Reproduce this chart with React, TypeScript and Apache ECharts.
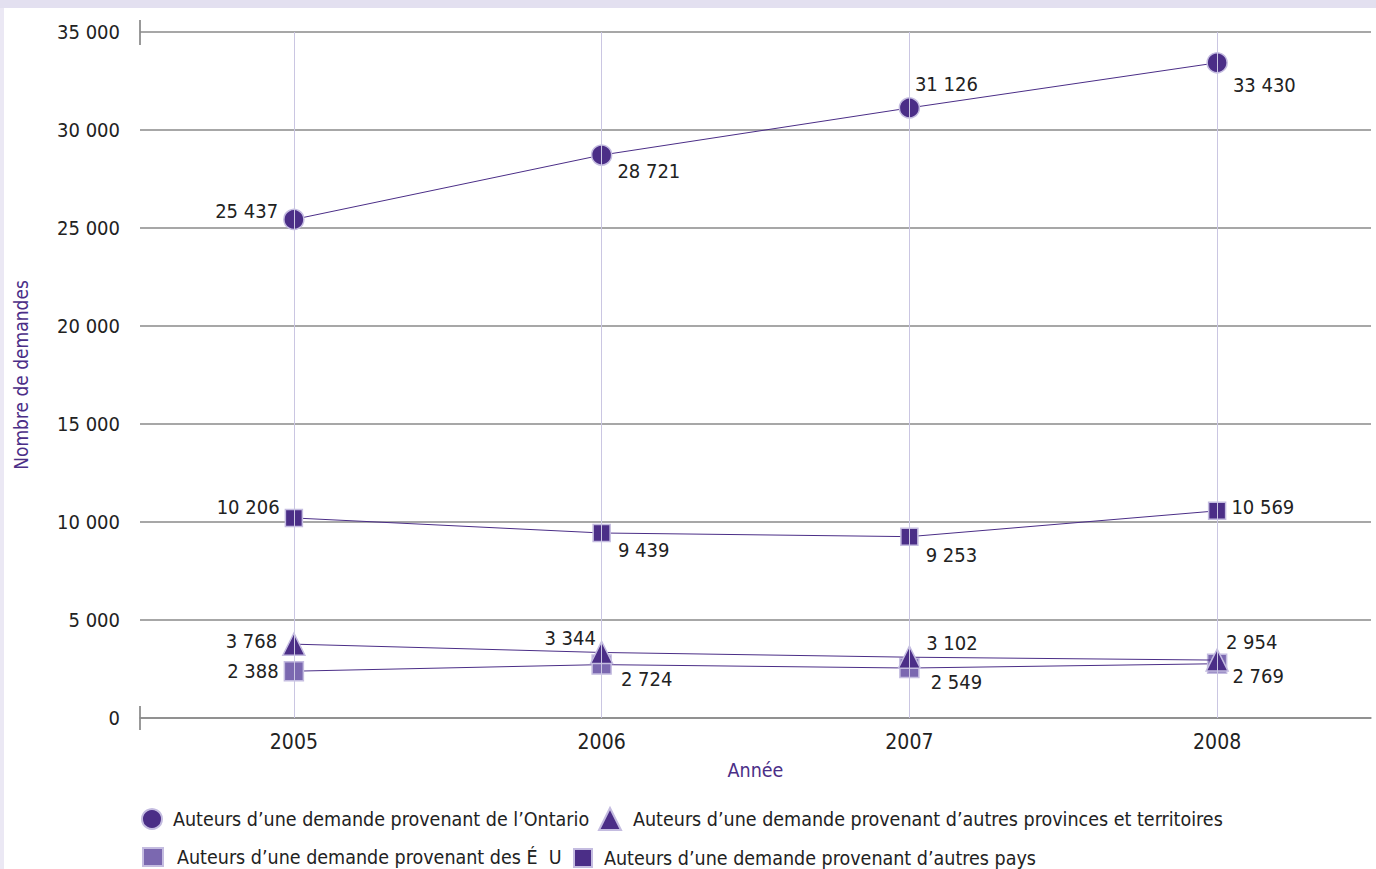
import React, { useEffect, useRef } from "react";
import * as echarts from "echarts";

const years = ["2005", "2006", "2007", "2008"];
const ontario = [25437, 28721, 31126, 33430];
const provinces = [3768, 3344, 3102, 2954];
const etatsUnis = [2388, 2724, 2549, 2769];
const autresPays = [10206, 9439, 9253, 10569];
const yTicks = [0, 5000, 10000, 15000, 20000, 25000, 30000, 35000];

const names = [
  "Auteurs d\u2019une demande provenant de l\u2019Ontario",
  "Auteurs d\u2019une demande provenant d\u2019autres provinces et territoires",
  "Auteurs d\u2019une demande provenant des \u00C9  U",
  "Auteurs d\u2019une demande provenant d\u2019autres pays",
];

// label placement per point: [position, dx, dy]
const ontarioLabels: [string, number, number][] = [
  ["left", 0, -8], ["right", 0, 16], ["top", 37, 2], ["right", 0, 22],
];
const provincesLabels: [string, number, number][] = [
  ["left", 0, -3], ["left", 11, -14], ["right", 0, -14], ["right", -8, -18],
];
const usLabels: [string, number, number][] = [
  ["left", 0, 0], ["right", 4, 14], ["right", 6, 14], ["right", 0, 12],
];
const paysLabels: [string, number, number][] = [
  ["left", 0, -11], ["right", 2, 17], ["right", 2, 18], ["right", 0, -4],
];

const FONT = "'Liberation Sans Narrow', 'Arial Narrow', 'DejaVu Sans Condensed', sans-serif";
const DARK = "#4b2e87";
const LIGHT = "#7b68b0";
const fmt = (v: number) => String(v).replace(/\B(?=(\d{3})+(?!\d))/g, " ");

function buildData(values: number[], labels: [string, number, number][]) {
  return values.map((v, i) => ({
    value: v,
    label: { position: labels[i][0], offset: [labels[i][1], labels[i][2]] },
  }));
}

export default function App() {
  const ref = useRef<HTMLDivElement>(null);
  useEffect(() => {
    document.body.style.margin = "0";
    const chart = echarts.init(ref.current!, undefined, { renderer: "svg" });
    const labelStyle = {
      show: true,
      fontFamily: FONT,
      fontSize: 20,
      color: "#222",
      distance: 5,
      formatter: (p: any) => fmt(p.value),
    };
    const mk = (name: string, vals: number[], labs: any, symbol: string, size: number, color: string, z: number) => ({
      name,
      type: "line",
      z,
      data: buildData(vals, labs),
      symbol,
      symbolSize: size,
      showAllSymbol: true,
      lineStyle: { color: DARK, width: 1 },
      itemStyle: { color, borderColor: "#c4bce0", borderWidth: 1.5 },
      label: labelStyle,
    });
    const legendText = { fontFamily: FONT, fontSize: 19.5, color: "#222" };
    const leg = (name: string, icon: string, left: number, top: number, w: number, h: number, pad: number) => ({
      data: [{ name, icon }],
      left,
      top,
      itemWidth: w,
      itemHeight: h,
      padding: 0,
      selectedMode: false,
      textStyle: { ...legendText, padding: [0, 0, 0, pad] },
    });
    chart.setOption({
      animation: false,
      backgroundColor: "#fff",
      textStyle: { fontFamily: FONT },
      grid: { left: 140, right: 5, top: 32, bottom: 151, containLabel: false, outerBoundsMode: "none" },
      legend: [
        leg(names[0], "circle", 141, 808, 20, 20, 6),
        leg(names[1], "triangle", 598, 807, 22, 22, 7),
        leg(names[2], "rect", 142, 847, 20, 18, 9),
        leg(names[3], "rect", 573, 848, 18, 18, 7),
      ],
      xAxis: {
        type: "category",
        data: years,
        boundaryGap: true,
        name: "Ann\u00E9e",
        nameLocation: "middle",
        nameGap: 42,
        nameTextStyle: { color: DARK, fontSize: 19.5, fontFamily: FONT },
        axisLine: { show: true, lineStyle: { color: "#8a8a8a", width: 1.5 } },
        axisTick: { show: false },
        axisLabel: { color: "#222", fontSize: 21, fontFamily: FONT, margin: 13 },
        splitLine: { show: false },
      },
      yAxis: {
        type: "value",
        min: 0,
        max: 35000,
        interval: 5000,
        name: "Nombre de demandes",
        nameLocation: "middle",
        nameGap: 110,
        nameRotate: 90,
        nameTextStyle: { color: DARK, fontSize: 19, fontFamily: FONT },
        axisLine: { show: false },
        axisTick: { show: false },
        axisLabel: {
          color: "#222",
          fontSize: 20,
          fontFamily: FONT,
          margin: 20,
          formatter: (v: number) => (yTicks.includes(v) ? fmt(v) : ""),
        },
        splitLine: { show: true, lineStyle: { color: "#8a8a8a", width: 1.5 } },
      },
      series: [
        {
          name: "grid-v",
          type: "line",
          z: 1,
          data: [],
          silent: true,
          markLine: {
            silent: true,
            symbol: ["none", "none"],
            label: { show: false },
            lineStyle: { color: "#cac6e2", type: "solid", width: 1 },
            data: years.map((y) => ({ xAxis: y })),
          },
        },
        mk(names[0], ontario, ontarioLabels, "circle", 20, DARK, 3),
        mk(names[3], autresPays, paysLabels, "rect", 17, DARK, 3),
        mk(names[2], etatsUnis, usLabels, "rect", 19, LIGHT, 3),
        mk(names[1], provinces, provincesLabels, "triangle", 22, DARK, 4),
      ],
      graphic: [
        { type: "rect", shape: { x: 0, y: 0, width: 1376, height: 8 }, style: { fill: "#e3e0f0" }, silent: true },
        { type: "rect", shape: { x: 0, y: 8, width: 4, height: 861 }, style: { fill: "#ebe8f4" }, silent: true },
        { type: "line", shape: { x1: 140, y1: 20, x2: 140, y2: 45 }, style: { stroke: "#777", lineWidth: 1.5 } },
        { type: "line", shape: { x1: 140, y1: 706, x2: 140, y2: 730 }, style: { stroke: "#777", lineWidth: 1.5 } },
      ],
    });
    return () => chart.dispose();
  }, []);
  return <div ref={ref} style={{ width: 1376, height: 869, position: "absolute", left: 0, top: 0 }} />;
}
